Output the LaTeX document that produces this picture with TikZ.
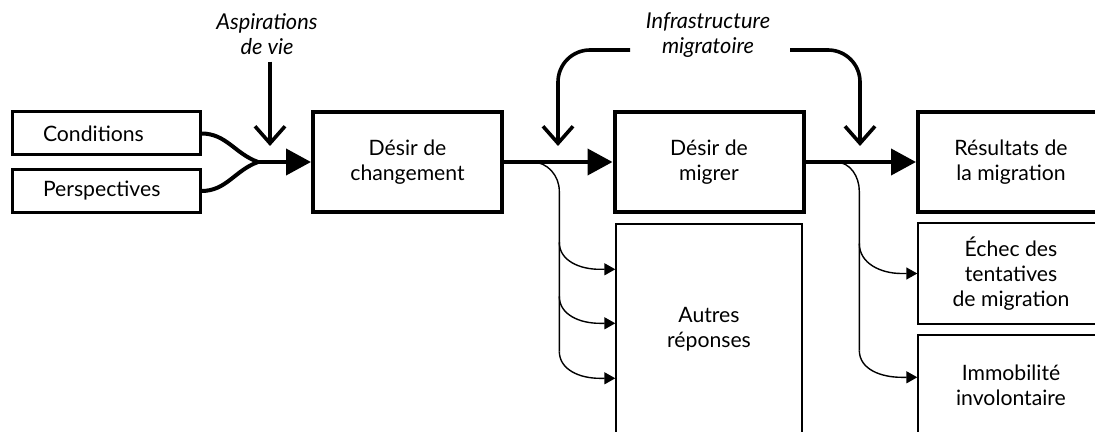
\documentclass[tikz,border=0pt]{standalone}
\usepackage{fontspec}
\setmainfont{Lato}
\usetikzlibrary{arrows.meta,calc}

\tikzset{
  boxtext/.style={font=\fontsize{10.6}{12.5}\selectfont, align=center},
  inbox/.style={draw, line width=1.5pt, minimum height=21.5pt, text width=63pt, inner xsep=15.5pt, align=left, font=\fontsize{10.6}{12.5}\selectfont},
  mainbox/.style={boxtext, draw, line width=2pt, minimum width=94.5pt, minimum height=50pt},
  sidebox/.style={boxtext, draw, line width=0.7pt, minimum width=93pt},
  sidenote/.style={font=\itshape\fontsize{10.9}{12.5}\selectfont, align=center},
  feed/.style={line width=2pt},
  flow/.style={line width=2pt, -{Triangle[length=12.5pt,width=13pt]}},
  influence/.style={line width=1.8pt, -{Straight Barb[length=8.5pt,width=15pt]}},
  splitline/.style={line width=0.7pt},
  splitarrow/.style={line width=0.7pt, -{Triangle[length=5.5pt,width=6pt]}}
}

\begin{document}
\begin{tikzpicture}[x=0.5pt, y=-0.5pt]
    \useasboundingbox (0,0) rectangle (1095,432);
    \clip (0,0) rectangle (1095,432);

    % inputs
    \node[inbox] (cond) at (106,133.5) {Conditions};
    \node[inbox] (persp) at (106,191) {Perspectives};

    % main chain
    \node[mainbox] (chg) at (407.5,162) {Désir de\\changement};
    \node[mainbox] (mig) at (709,162) {Désir de\\migrer};
    \node[mainbox, minimum width=93pt] (res) at (1011,162) {Résultats de\\la migration};

    % other outcomes
    \node[sidebox, minimum height=105pt] (autres) at (709,329) {Autres\\réponses};
    \node[sidebox, minimum height=50.5pt] (echec) at (1011,273.5) {Échec des\\tentatives\\de migration};
    \node[sidebox, minimum height=50pt] (immo) at (1011,385) {Immobilité\\involontaire};

    % influences
    \node[sidenote] (asp) at (267,34) {Aspirations\\de vie};
    \node[sidenote] (infra) at (708,35) {Infrastructure\\migratoire};

    \coordinate (merge) at (258,162);
    \coordinate (aspTip) at (270,146);
    \coordinate (infraL) at (630,50);
    \coordinate (infraR) at (790,50);
    \coordinate (dropL) at (558,146);
    \coordinate (dropR) at (860,146);
    \coordinate (splitA) at ($(chg.east)+(28,0)$);
    \coordinate (splitB) at ($(mig.east)+(30,0)$);

    \draw[feed] (cond.east) to[out=0,in=160] (merge);
    \draw[feed] (persp.east) to[out=0,in=200] (merge);
    \draw[flow] (merge) -- (chg.west);
    \draw[flow] (chg) -- (mig);
    \draw[flow] (mig) -- (res);

    \draw[influence] (asp.south -| aspTip) -- (aspTip);
    \draw[influence, rounded corners=16pt] (infraL) -| (dropL);
    \draw[influence, rounded corners=16pt] (infraR) -| (dropR);

    % branches to other responses
    \draw[splitline] (splitA) to[out=0,in=90] ($(autres.north west)+(-56,-32)$) -- ($(autres.north west)+(-56,128)$);
    \foreach \dy in {46,100,155}
        \draw[splitarrow] ($(autres.north west)+(-56,\dy-27)$) to[out=-90,in=180] ++(40,27) -- ($(autres.north west)+(0,\dy)$);

    % branches to failure / immobility
    \draw[splitline] (splitB) to[out=0,in=90] ($(echec.north west)+(-58,-31)$) -- ($(immo.north west)+(-58,16)$);
    \draw[splitarrow] ($(echec.west)+(-58,-30)$) to[out=-90,in=180] ++(42,30) -- (echec.west);
    \draw[splitarrow] ($(immo.north west)+(-58,16)$) to[out=-90,in=180] ++(42,27) -- ($(immo.north west)+(0,43)$);
\end{tikzpicture}
\end{document}
